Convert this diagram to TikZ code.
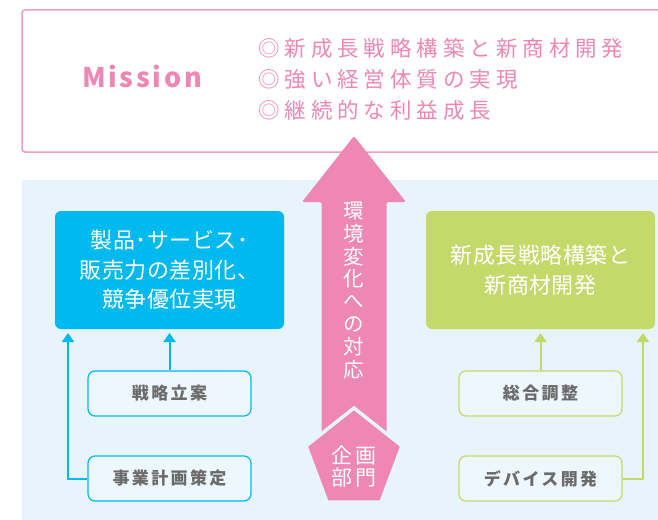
\documentclass[tikz,border=0pt]{standalone}
\usepackage{fontspec}
\setmainfont{Noto Sans CJK JP}
\newfontfamily\jpwide[LetterSpace=23]{Noto Sans CJK JP}
\newfontfamily\jpmid[LetterSpace=14]{Noto Sans CJK JP}
\newfontfamily\jpsmall[LetterSpace=2]{Noto Sans CJK JP}
\newfontfamily\latwide[LetterSpace=10]{Noto Sans CJK JP}
\usetikzlibrary{arrows.meta}
\definecolor{pinkc}{HTML}{EE87B4}
\definecolor{pinkline}{HTML}{F29AC1}
\definecolor{panelc}{HTML}{E8F4FC}
\definecolor{cyanc}{HTML}{00B9EF}
\definecolor{greenc}{HTML}{C5D96B}
\definecolor{grayt}{HTML}{6B6B6B}
\definecolor{boxfill}{HTML}{EEF7FD}
\tikzset{
  missionbox/.style={draw=pinkline, line width=1.5pt, rounded corners=3pt, fill=white, inner sep=0pt},
  bigbox/.style={rounded corners=6pt, minimum width=229pt, minimum height=118pt, inner sep=0pt, align=center, text=white,
    font=\jpsmall\fontsize{22pt}{29.5pt}\selectfont},
  smallbox/.style={rounded corners=7pt, line width=1.2pt, fill=boxfill, minimum width=163pt, minimum height=45pt,
    inner sep=0pt, text=grayt, font=\jpmid\bfseries\fontsize{17pt}{18pt}\selectfont},
  cyanarrow/.style={draw=cyanc, line width=2pt, -{Triangle[width=12pt,length=9pt]}},
  greenarrow/.style={draw=greenc, line width=2pt, -{Triangle[width=12pt,length=9pt]}},
  vchar/.style={text=white, inner sep=0pt, font=\fontsize{20.5pt}{20.5pt}\selectfont}
}
\begin{document}
\begin{tikzpicture}[x=1pt,y=-1pt]
\useasboundingbox (0,0) rectangle (658,519);
\clip (0,0) rectangle (658,519);
% mission
\node[missionbox, minimum width=672pt, minimum height=142pt] (mission) at (358,81) {};
\node[text=pinkc, font=\latwide\bfseries\fontsize{27pt}{30pt}\selectfont, inner sep=0pt] (mtitle) at (142,76) {Mission};
\node[anchor=west, align=left, text=pinkc, inner sep=0pt, font=\jpwide\fontsize{21.5pt}{31pt}\selectfont] (goals) at (258,79)
  {◎新成長戦略構築と新商材開発\\◎強い経営体質の実現\\◎継続的な利益成長};
% panel
\node[fill=panelc, minimum width=680pt, minimum height=360pt, inner sep=0pt, anchor=north west] (panel) at (22,180) {};
% boxes
\node[bigbox, fill=cyanc] (blue) at (169.5,270) {製品･サービス･\\販売力の差別化、\\競争優位実現};
\node[bigbox, fill=greenc] (green) at (540.5,270) {新成長戦略構築と\\新商材開発};
\node[smallbox, draw=cyanc] (senryaku) at (169.5,393.5) {戦略立案};
\node[smallbox, draw=cyanc] (jigyo) at (169.5,478.5) {事業計画策定};
\node[smallbox, draw=greenc] (sogo) at (540.5,393.5) {総合調整};
\node[smallbox, draw=greenc] (device) at (540.5,478.5) {デバイス開発};
% connectors
\coordinate (lt) at (68,333);
\coordinate (rt) at (643,333);
\draw[cyanarrow] (jigyo.west) -| (lt);
\draw[cyanarrow] (senryaku.north) -- (senryaku.north |- lt);
\draw[greenarrow] (device.east) -| (rt);
\draw[greenarrow] (sogo.north) -- (sogo.north |- rt);
% big arrow
\fill[pinkc, rounded corners=1.5pt] (321.5,470) -- (321.5,202) -- (302,202) -- (354,136) -- (406,202) -- (386.5,202) -- (386.5,470) -- cycle;
\foreach \c [count=\i] in {環,境,変,化,へ,の,対,応}
  \node[vchar] (v\i) at (354,{211.5+22.6*(\i-1)}) {\c};
% pentagon
\draw[fill=pinkc, draw=panelc, line width=3.5pt, line join=miter] (354,408) -- (402,446) -- (381,502) -- (327,502) -- (306,446) -- cycle;
\node[text=white, align=center, inner sep=0pt, font=\jpmid\fontsize{21pt}{22pt}\selectfont] (kikaku) at (354,466) {企画\\部門};
\end{tikzpicture}
\end{document}
